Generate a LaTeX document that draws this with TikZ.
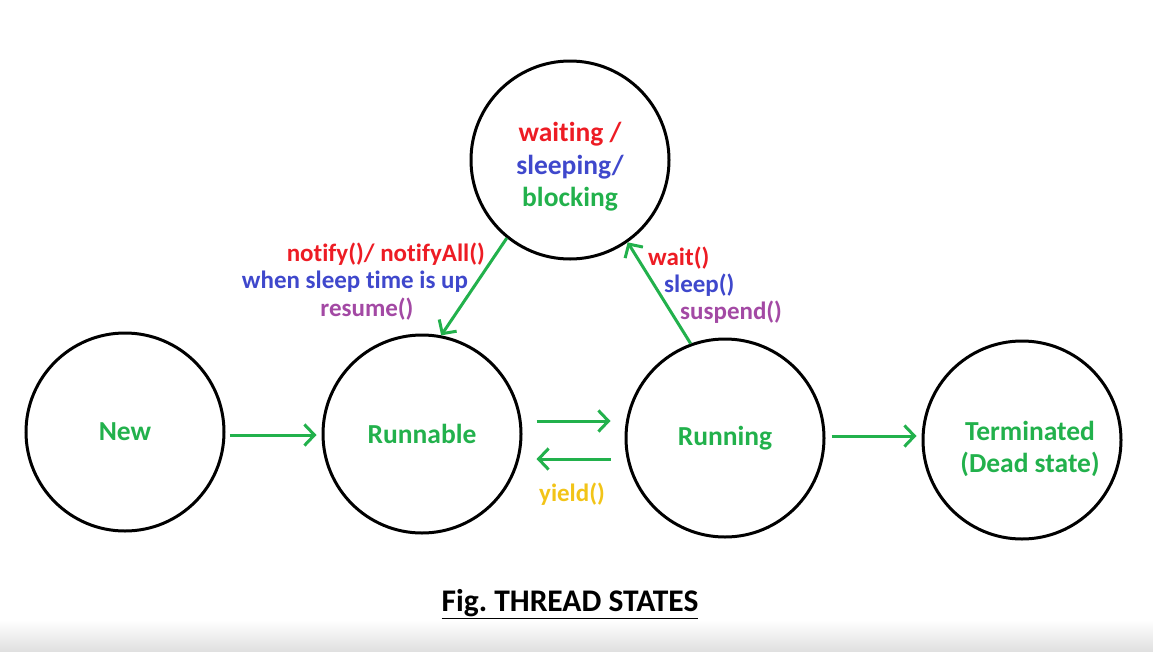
\documentclass[tikz,border=0pt]{standalone}
\usepackage{fontspec}
\setmainfont[Ligatures=NoCommon]{Carlito}
\usetikzlibrary{arrows.meta,calc}
\definecolor{tgreen}{HTML}{22B14C}
\definecolor{tred}{HTML}{ED1C24}
\definecolor{tblue}{HTML}{3F48CC}
\definecolor{tpurple}{HTML}{A349A4}
\definecolor{tyellow}{HTML}{F2C418}
\frenchspacing
\begin{document}
\begin{tikzpicture}[x=1pt,y=-1pt,
  state/.style={circle,draw=black,line width=3pt,minimum size=198pt,inner sep=0pt,align=center,font=\fontsize{27.5}{32}\selectfont\bfseries,text=tgreen},
  stext/.style={align=center,inner sep=0pt,font=\fontsize{27.5}{32.5}\selectfont\bfseries,text=tgreen},
  conn/.style={draw=tgreen,line width=3pt,-{Straight Barb[length=10pt,width=21pt,line width=3pt]}},
  lbl/.style={font=\fontsize{25}{27}\selectfont\bfseries,inner sep=0pt}]
\useasboundingbox (0,0) rectangle (1153,651);
\shade[top color=white,bottom color=black!12] (0,620) rectangle (1153,651);
\node[state] (new) at (125,432) {New};
\node[state] (runnable) at (422,434) {Runnable};
\node[state] (running) at (725,438) {Running};
\node[state] (term) at (1022,440) {};
\node[stext] (termtext) at (1030,449) {Terminated\\(Dead state)};
\node[state] (wait) at (570,160) {};
\node[stext] (waittext) at (570,167) {\textcolor{tred}{waiting /}\\\textcolor{tblue}{sleeping/}\\blocking};
\draw[conn] ($(new.east)+(4,3)$) -- ($(runnable.west)+(-5,1)$);
\draw[conn] ($(runnable.east)+(14,-13)$) -- ($(running.west)+(-14,-17)$);
\draw[conn] ($(running.west)+(-14,21)$) -- ($(runnable.east)+(14,25)$);
\draw[conn] ($(running.east)+(6,-2)$) -- ($(term.west)+(-5,-4)$);
\draw[conn] (wait.231) -- (runnable.79);
\draw[conn] (running.110) -- (wait.-55);
\node[lbl,text=tred,anchor=east] (l1) at (485,254) {notify()/ notifyAll()};
\node[lbl,text=tblue] (l2) at (355,282) {when sleep time is up};
\node[lbl,text=tpurple] (l3) at (367,309) {resume()};
\node[lbl,text=tred,anchor=west] (l4) at (648,258) {wait()};
\node[lbl,text=tblue,anchor=west] (l5) at (664,285) {sleep()};
\node[lbl,text=tpurple,anchor=west] (l6) at (680,312) {suspend()};
\node[lbl,text=tyellow] (l7) at (572,494) {yield()};
\node[font=\fontsize{31.5}{36}\selectfont\bfseries] (cap) at (570,604) {\underline{Fig. THREAD STATES}};
\end{tikzpicture}
\end{document}
